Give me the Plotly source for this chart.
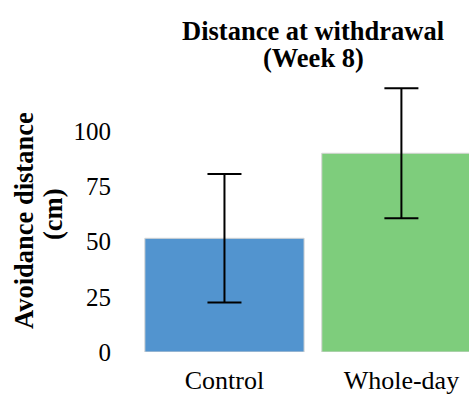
import plotly.graph_objects as go

categories = ["Control", "Whole-day"]
means = [51.5, 90.0]
errors = [29.1, 29.4]
colors = ["#5294cf", "#7ecd7c"]
y_ticks = [0, 25, 50, 75, 100]
title_lines = ["Distance at withdrawal", "(Week 8)"]
ylabel_lines = ["Avoidance distance", "(cm)"]

W, H = 469, 394
ml, mr, mt, mb = 136, 0, 76, 42
pw, ph = W - ml - mr, H - mt - mb

def px_x(x):
    return (x - ml) / pw

def px_y(y):
    return (H - mb - y) / ph

fig = go.Figure()
fig.add_trace(go.Bar(
    x=categories, y=means,
    marker=dict(color=colors, line=dict(color="#d4d4d4", width=1)),
    error_y=dict(type="data", array=errors, visible=True, color="black", thickness=2, width=17),
    width=0.9,
))

font_family = "Liberation Serif"
fig.update_layout(
    width=W, height=H,
    margin=dict(l=ml, r=mr, t=mt, b=mb, pad=0),
    plot_bgcolor="white", paper_bgcolor="white",
    showlegend=False,
    font=dict(family=font_family, color="black", size=25),
    xaxis=dict(range=[-0.5, 1.382], showline=False, showgrid=False, zeroline=False,
               ticks="", tickfont=dict(family=font_family, size=26), ticklabelstandoff=10,
               automargin=False),
    yaxis=dict(range=[0, 125], tickvals=y_ticks, showline=False, showgrid=False, zeroline=False,
               ticks="", tickfont=dict(family=font_family, size=25), ticklabelstandoff=24,
               automargin=False),
)
for txt, yc in zip(title_lines, [30.5, 58]):
    fig.add_annotation(
        text=f"<b>{txt}</b>", xref="paper", yref="paper",
        x=px_x(313), y=px_y(yc), xanchor="center", yanchor="middle", showarrow=False,
        font=dict(family=font_family, size=26.5, color="black"),
    )
for txt, xc, yc in zip(ylabel_lines, [24, 53], [220, 214]):
    fig.add_annotation(
        text=f"<b>{txt}</b>", textangle=-90, xref="paper", yref="paper",
        x=px_x(xc), y=px_y(yc), xanchor="center", yanchor="middle", showarrow=False,
        font=dict(family=font_family, size=26.5, color="black"),
    )
fig.write_html("out.html")
